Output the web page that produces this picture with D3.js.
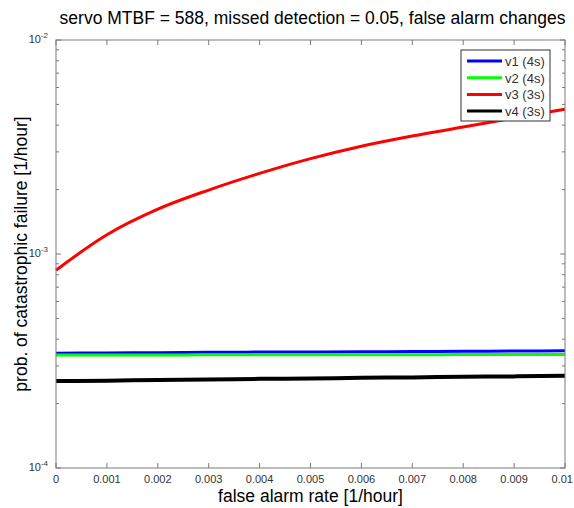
<!DOCTYPE html>
<html>
<head>
<meta charset="utf-8">
<script src="https://cdn.jsdelivr.net/npm/d3@7"></script>
<style>
  body { margin: 0; background: #fff; }
  text { font-family: "Liberation Sans", Arial, sans-serif; }
</style>
</head>
<body>
<svg id="svg" width="574" height="508"></svg>
<script>
// false alarm rate samples and the four versions
let falseAlarm = [0, 0.001, 0.002, 0.003, 0.004, 0.005, 0.006, 0.007, 0.008, 0.009, 0.01];
let v1 = [3.44e-4, 3.45e-4, 3.46e-4, 3.47e-4, 3.48e-4, 3.48e-4, 3.49e-4, 3.50e-4, 3.51e-4, 3.52e-4, 3.53e-4];
let v2 = [3.37e-4, 3.37e-4, 3.37e-4, 3.38e-4, 3.38e-4, 3.38e-4, 3.38e-4, 3.38e-4, 3.39e-4, 3.39e-4, 3.39e-4];
let v3 = [8.4e-4, 1.23e-3, 1.62e-3, 1.99e-3, 2.38e-3, 2.79e-3, 3.19e-3, 3.56e-3, 3.92e-3, 4.32e-3, 4.75e-3];
let v4 = [2.55e-4, 2.56e-4, 2.58e-4, 2.59e-4, 2.61e-4, 2.62e-4, 2.64e-4, 2.65e-4, 2.67e-4, 2.68e-4, 2.70e-4];

let seriesNames = ["v1 (4s)", "v2 (4s)", "v3 (3s)", "v4 (3s)"];
let seriesColors = ["#0000ff", "#00ff00", "#ff0000", "#000000"];
let seriesWidths = [3, 3, 3, 4];
let xTicks = [0, 0.001, 0.002, 0.003, 0.004, 0.005, 0.006, 0.007, 0.008, 0.009, 0.01];
let yDecades = [-4, -3, -2];

let margin = {left: 56, right: 9, top: 40, bottom: 40};
let width = 574 - margin.left - margin.right;
let height = 508 - margin.top - margin.bottom;

let svg = d3.select("#svg");
let g = svg.append("g").attr("transform", "translate(" + margin.left + "," + margin.top + ")");

let x = d3.scaleLinear().domain([0, 0.01]).range([0, width]);
let y = d3.scaleLog().domain([1e-4, 1e-2]).range([height, 0]);

let axisColor = "#7a7a7a";

//minor ticks on the log axis (2..9 in each decade)
let minor = [];
[1e-4, 1e-3].forEach(function (d) {
    for (let k = 2; k <= 9; k++) minor.push(d * k);
});

//lines
let data = [v1, v2, v3, v4];
let line = d3.line()
    .curve(d3.curveMonotoneX)
    .x(function (d, i) { return x(falseAlarm[i]); })
    .y(function (d) { return y(d); });

data.forEach(function (s, i) {
    g.append("path")
        .datum(s)
        .attr("fill", "none")
        .attr("stroke", seriesColors[i])
        .attr("stroke-width", seriesWidths[i])
        .attr("d", line);
});

//box
g.append("rect")
    .attr("width", width).attr("height", height)
    .attr("fill", "none").attr("stroke", axisColor).attr("stroke-width", 1);

//x ticks bottom and top
xTicks.forEach(function (t, i) {
    g.append("line").attr("x1", x(t)).attr("x2", x(t)).attr("y1", height).attr("y2", height - 5).attr("stroke", axisColor);
    g.append("line").attr("x1", x(t)).attr("x2", x(t)).attr("y1", 0).attr("y2", 5).attr("stroke", axisColor);
    let last = i === xTicks.length - 1;
    g.append("text")
        .attr("x", last ? x(t) + 8 : x(t)).attr("y", height + 15)
        .attr("text-anchor", last ? "end" : "middle")
        .attr("font-size", 11).attr("fill", "#333")
        .text(t === 0 ? "0" : d3.format(".3~f")(t));
});

//y ticks
yDecades.forEach(function (p) {
    let v = Math.pow(10, p);
    g.append("line").attr("x1", 0).attr("x2", 5).attr("y1", y(v)).attr("y2", y(v)).attr("stroke", axisColor);
    g.append("line").attr("x1", width).attr("x2", width - 5).attr("y1", y(v)).attr("y2", y(v)).attr("stroke", axisColor);
    let lab = g.append("text")
        .attr("x", -8).attr("y", y(v) + 3)
        .attr("text-anchor", "end")
        .attr("font-size", 11).attr("fill", "#333");
    lab.append("tspan").text("10");
    lab.append("tspan").attr("dy", -5).attr("font-size", 8).text(p);
});
minor.forEach(function (v) {
    g.append("line").attr("x1", 0).attr("x2", 3).attr("y1", y(v)).attr("y2", y(v)).attr("stroke", axisColor);
    g.append("line").attr("x1", width).attr("x2", width - 3).attr("y1", y(v)).attr("y2", y(v)).attr("stroke", axisColor);
});

//title and labels
svg.append("text")
    .attr("x", margin.left + width / 2 + 2).attr("y", 24)
    .attr("text-anchor", "middle").attr("font-size", 17.5).attr("fill", "#000")
    .text("servo MTBF = 588, missed detection = 0.05, false alarm changes");

svg.append("text")
    .attr("x", margin.left + width / 2).attr("y", 502)
    .attr("text-anchor", "middle").attr("font-size", 17.5).attr("fill", "#000")
    .text("false alarm rate [1/hour]");

svg.append("text")
    .attr("transform", "translate(27," + (margin.top + height / 2) + ") rotate(-90)")
    .attr("text-anchor", "middle").attr("font-size", 17.5).attr("fill", "#000")
    .text("prob. of catastrophic failure [1/hour]");

//legend
let legend = svg.append("g").attr("transform", "translate(461,50)");
legend.append("rect")
    .attr("width", 89).attr("height", 71)
    .attr("fill", "#fff").attr("stroke", "#333").attr("stroke-width", 1);
seriesNames.forEach(function (name, i) {
    let ly = 11 + i * 16.7;
    legend.append("line")
        .attr("x1", 6).attr("x2", 41).attr("y1", ly).attr("y2", ly)
        .attr("stroke", seriesColors[i]).attr("stroke-width", 3);
    legend.append("text")
        .attr("x", 44).attr("y", ly + 5)
        .attr("font-size", 13).attr("fill", "#333")
        .text(name);
});
</script>
</body>
</html>
